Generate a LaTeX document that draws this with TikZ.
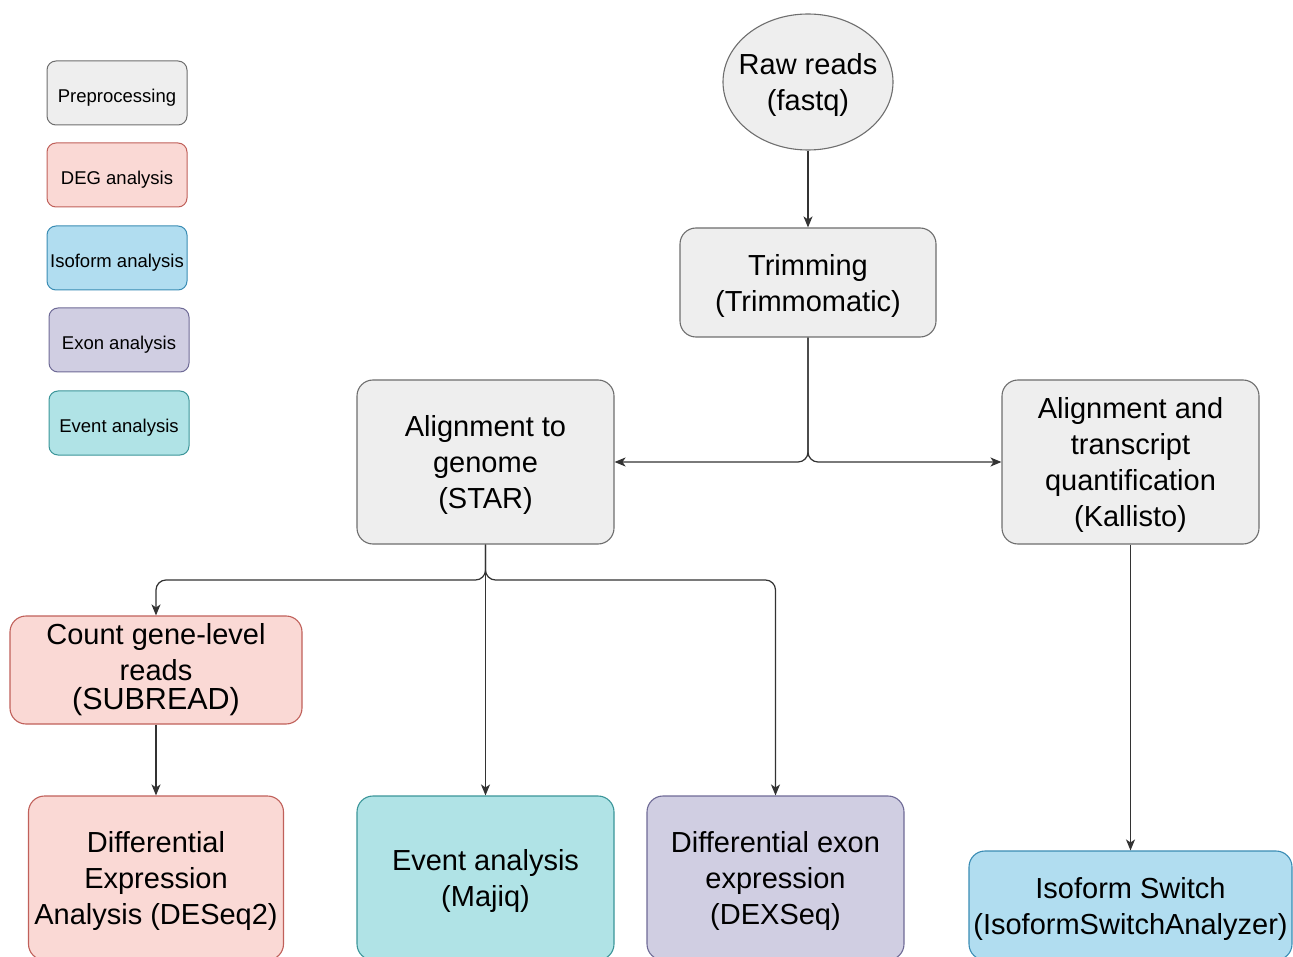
\documentclass[tikz,border=0pt]{standalone}
\usepackage{fontspec}
\setmainfont{Liberation Sans}
\usetikzlibrary{arrows.meta,shapes.geometric}
\definecolor{greyF}{HTML}{EEEEEE}\definecolor{greyD}{HTML}{6E6E6E}
\definecolor{pinkF}{HTML}{FAD9D5}\definecolor{pinkD}{HTML}{C0605A}
\definecolor{blueF}{HTML}{B1DDF0}\definecolor{blueD}{HTML}{3A8CB4}
\definecolor{purpF}{HTML}{D0CEE2}\definecolor{purpD}{HTML}{6E6A96}
\definecolor{tealF}{HTML}{B0E3E6}\definecolor{tealD}{HTML}{3A9599}
\definecolor{lineC}{HTML}{333333}
\begin{document}
\begin{tikzpicture}[x=1pt,y=-1pt,
  box/.style={draw, rounded corners=16, line width=1.1pt, inner sep=0pt},
  txt/.style={align=center, inner sep=0pt, font=\fontsize{29}{36}\selectfont},
  leg/.style={draw, rounded corners=9, line width=1pt, inner sep=0pt,
    minimum width=140pt, minimum height=64pt},
  legt/.style={inner sep=0pt, font=\fontsize{18.5}{22}\selectfont},
  grey/.style={fill=greyF, draw=greyD},
  pink/.style={fill=pinkF, draw=pinkD},
  blue/.style={fill=blueF, draw=blueD},
  purp/.style={fill=purpF, draw=purpD},
  teal/.style={fill=tealF, draw=tealD},
  arr/.style={draw=lineC, line width=1.2pt, -{Stealth[length=11pt,width=9pt,inset=3pt]}},
]
\useasboundingbox (0,0) rectangle (1293,957);

% legend
\node[leg,grey] (lpre) at (117,93) {};
\node[legt] (lpreT) at ([yshift=-5pt]lpre.center) {Preprocessing};
\node[leg,pink] (ldeg) at (117,175) {};
\node[legt] (ldegT) at ([yshift=-5pt]ldeg.center) {DEG analysis};
\node[leg,blue] (liso) at (117,258) {};
\node[legt] (lisoT) at ([yshift=-5pt]liso.center) {Isoform analysis};
\node[leg,purp] (lexo) at (119,340) {};
\node[legt] (lexoT) at ([yshift=-5pt]lexo.center) {Exon analysis};
\node[leg,teal] (levt) at (119,423) {};
\node[legt] (levtT) at ([yshift=-5pt]levt.center) {Event analysis};

% main nodes
\node[box,grey,ellipse,rounded corners=0,minimum width=170pt,minimum height=136pt] (raw) at (808,82) {};
\node[txt] (rawT) at ([yshift=-3pt]raw.center) {Raw reads\\(fastq)};
\node[box,grey,minimum width=256pt,minimum height=109pt] (trim) at (808,282.5) {};
\node[txt] (trimT) at ([yshift=-3pt]trim.center) {Trimming\\(Trimmomatic)};
\node[box,grey,minimum width=257pt,minimum height=164pt] (star) at (485.5,462) {};
\node[txt] (starT) at ([yshift=-3pt]star.center) {Alignment to\\genome\\(STAR)};
\node[box,grey,minimum width=257pt,minimum height=164pt] (kal) at (1130.5,462) {};
\node[txt] (kalT) at ([yshift=-3pt]kal.center) {Alignment and\\transcript\\quantification\\(Kallisto)};
\node[box,pink,minimum width=292pt,minimum height=108pt] (count) at (156,670) {};
\node[txt] (countT) at (count.center) {Count gene-level\\reads\\[-7pt]{\fontsize{30.5}{36}\selectfont(SUBREAD)}};
\node[box,pink,minimum width=255pt,minimum height=164pt] (deseq) at (156,878) {};
\node[txt] (deseqT) at ([yshift=-3pt]deseq.center) {Differential\\Expression\\Analysis (DESeq2)};
\node[box,teal,minimum width=257pt,minimum height=164pt] (majiq) at (485.5,878) {};
\node[txt] (majiqT) at ([yshift=-3pt]majiq.center) {Event analysis\\(Majiq)};
\node[box,purp,minimum width=257pt,minimum height=164pt] (dex) at (775.5,878) {};
\node[txt] (dexT) at ([yshift=-3pt]dex.center) {Differential exon\\expression\\(DEXSeq)};
\node[box,blue,minimum width=323pt,minimum height=109pt] (iso) at (1130.5,905.5) {};
\node[txt] (isoT) at ([yshift=-3pt]iso.center) {Isoform Switch\\(IsoformSwitchAnalyzer)};

% connectors
\draw[arr] (raw.south) -- (trim.north);
\draw[arr, rounded corners=10pt] (trim.south) |- (star.east);
\draw[arr, rounded corners=10pt] (trim.south) |- (kal.west);
\coordinate (sj) at (485.5,580);
\draw[arr, rounded corners=10pt] (star.south) -- (sj) -| (count.north);
\draw[arr, rounded corners=10pt] (star.south) -- (sj) -| (dex.north);
\draw[arr] (star.south) -- (majiq.north);
\draw[arr] (count.south) -- (deseq.north);
\draw[arr] (kal.south) -- (iso.north);
\end{tikzpicture}
\end{document}
